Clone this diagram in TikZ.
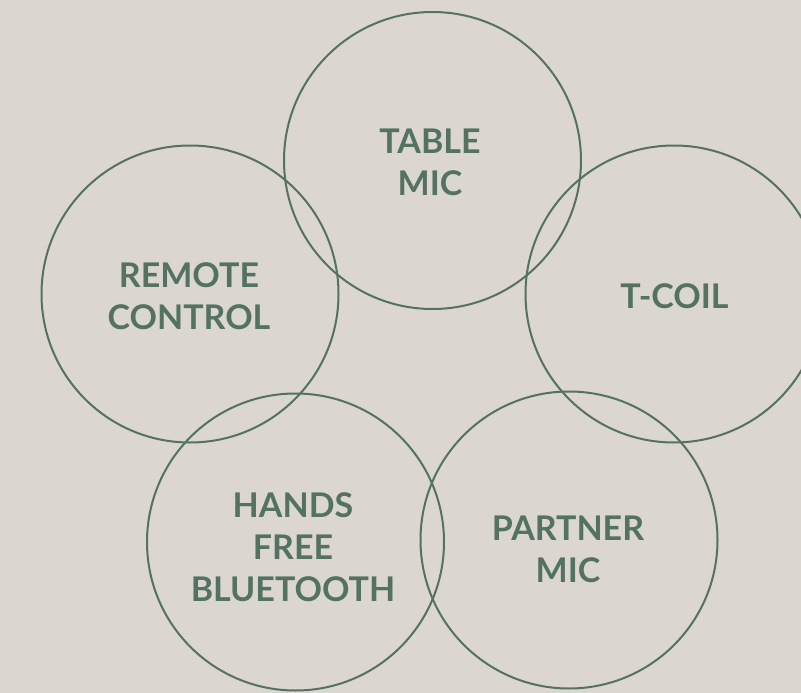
\documentclass[tikz,border=0pt]{standalone}
\usepackage{fontspec}
\setmainfont{Lato}
\usetikzlibrary{shapes.geometric}
\definecolor{bg}{HTML}{DCD6D0}
\definecolor{sage}{HTML}{537262}
\tikzset{
  ring/.style={circle, draw=sage, line width=2pt, minimum size=297pt, inner sep=0pt},
  lbl/.style={text=sage, align=center, font=\bfseries\fontsize{34}{42}\selectfont, inner sep=0pt}
}
\begin{document}
\begin{tikzpicture}[x=1pt,y=-1pt]
\fill[bg] (0,0) rectangle (801,693);
\useasboundingbox (0,0) rectangle (801,693);
\node[ring] (table) at (432.5,160.5) {};
\node[ring] (remote) at (190,294) {};
\node[ring] (tcoil) at (674,294) {};
\node[ring] (hands) at (295.5,542) {};
\node[ring] (partner) at (569,540) {};
\node[lbl] (ltable) at (430,162) {TABLE\\MIC};
\node[lbl] (lremote) at (189,296) {REMOTE\\CONTROL};
\node[lbl] (ltcoil) at (674.5,296) {T-COIL};
\node[lbl] (lhands) at (293,547) {HANDS\\FREE\\BLUETOOTH};
\node[lbl] (lpartner) at (568,549) {PARTNER\\MIC};
\end{tikzpicture}
\end{document}
